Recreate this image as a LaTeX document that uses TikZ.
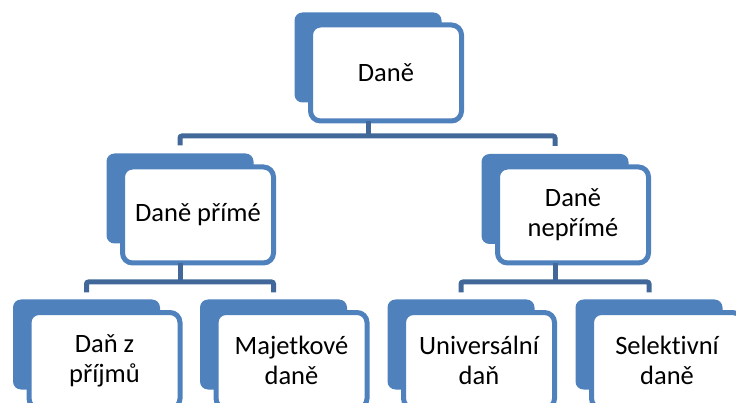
\documentclass[tikz,border=0pt]{standalone}
\usepackage{fontspec}
\setmainfont[Ligatures=NoCommon]{Carlito}
\definecolor{boxblue}{RGB}{79,129,189}
\definecolor{lineblue}{RGB}{65,104,153}
\tikzset{
  backbox/.style={rectangle, rounded corners=8pt, fill=boxblue, minimum width=147pt, minimum height=90pt, inner sep=0pt},
  frontbox/.style={rectangle, rounded corners=10pt, draw=boxblue, line width=5pt, fill=white, minimum width=151pt, minimum height=96pt, align=center, font=\fontsize{26.5}{30}\selectfont, text=black, inner sep=0pt},
  conn/.style={draw=lineblue, line width=5pt, rounded corners=2pt}
}
\begin{document}
\begin{tikzpicture}[x=1pt,y=-1pt]
\useasboundingbox (0,0) rectangle (736,403);
\clip (0,0) rectangle (736,403);
% back shapes
\node[backbox] (b0) at (368,57.5) {};
\node[backbox] (b1) at (180,198.5) {};
\node[backbox] (b2) at (555,199) {};
\node[backbox] (b3) at (86.5,344.5) {};
\node[backbox] (b4) at (273.5,344.5) {};
\node[backbox] (b5) at (461,344.5) {};
\node[backbox] (b6) at (649,344.5) {};
% junction coordinates
\coordinate (h1) at (368,136);
\coordinate (h2) at (180,282);
\coordinate (h3) at (555,282);
% front boxes
\node[frontbox] (n0) at (386,73) {Daně};
\node[frontbox] (n1) at (198,215) {Daně přímé};
\node[frontbox] (n2) at (573,215) {Daně\\nepřímé};
\node[frontbox] (n3) at (104.5,360.5) {Daň z\\příjmů};
\node[frontbox] (n4) at (291.5,360.5) {Majetkové\\daně};
\node[frontbox] (n5) at (479,360.5) {Universální\\daň};
\node[frontbox] (n6) at (667,360.5) {Selektivní\\daně};
% connectors
\draw[conn] ([yshift=2pt]b0.center |- n0.south) -- (h1);
\draw[conn] ([yshift=8pt]b1.north) |- (h1) -| ([yshift=8pt]b2.north);
\draw[conn] ([yshift=2pt]b1.center |- n1.south) -- (h2);
\draw[conn] ([yshift=7pt]b3.north) |- (h2) -| ([yshift=7pt]b4.north);
\draw[conn] ([yshift=2pt]b2.center |- n2.south) -- (h3);
\draw[conn] ([yshift=7pt]b5.north) |- (h3) -| ([yshift=7pt]b6.north);
\end{tikzpicture}
\end{document}
